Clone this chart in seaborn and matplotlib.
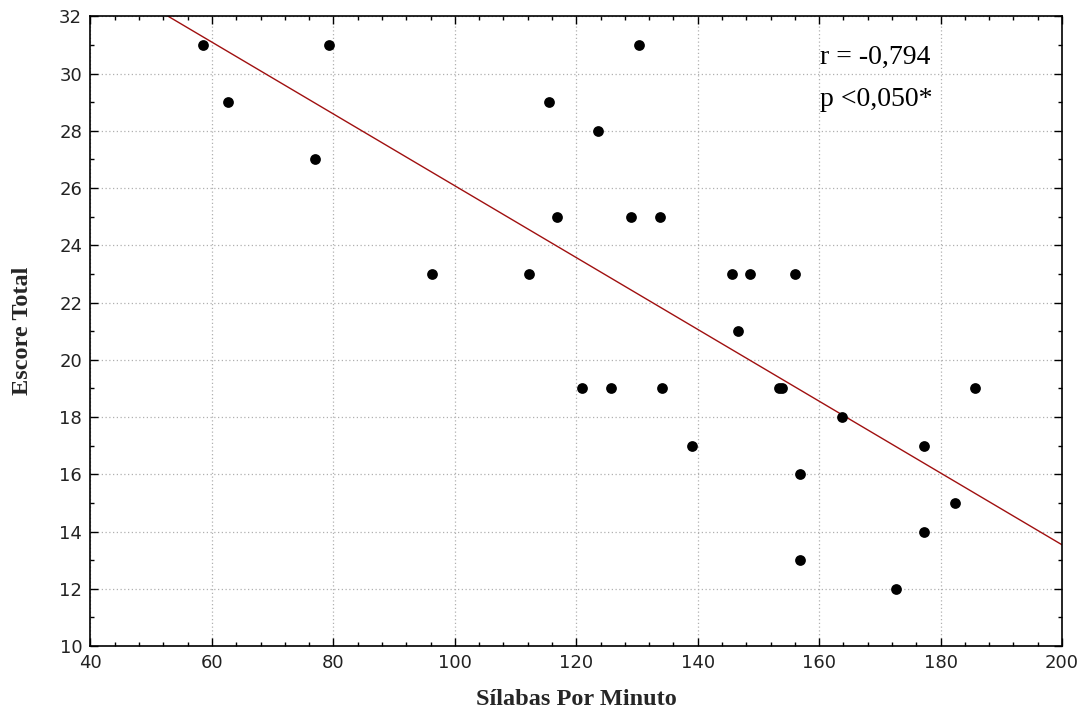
import matplotlib
matplotlib.use("Agg")
import matplotlib.pyplot as plt
import seaborn as sns
import numpy as np
import pandas as pd
from matplotlib.ticker import MultipleLocator

silabas = [58.5, 62.6, 77.0, 79.3, 96.2, 112.2, 115.5, 116.9, 121.0, 123.6,
           125.7, 129.0, 130.3, 133.8, 134.2, 139.1, 145.7, 146.6, 148.6, 153.4,
           153.9, 156.1, 156.8, 156.8, 163.7, 172.7, 177.2, 177.2, 182.3, 185.6]
escore = [31, 29, 27, 31, 23, 23, 29, 25, 19, 28,
          19, 25, 31, 25, 19, 17, 23, 21, 23, 19,
          19, 23, 16, 13, 18, 12, 17, 14, 15, 19]
x_label = "Sílabas Por Minuto"
y_label = "Escore Total"
annot_r = "r = -0,794"
annot_p = "p <0,050*"

df = pd.DataFrame({"x": silabas, "y": escore})

sns.set_style("white")
fig = plt.figure(figsize=(10.89, 7.27), dpi=100)
ax = fig.add_axes([0.0831, 0.1114, 0.9752 - 0.0831, 0.9776 - 0.1114])
ax.set_xlim(40, 200)
ax.set_ylim(10, 32)

sns.regplot(data=df, x="x", y="y", ax=ax, ci=None, truncate=False,
            scatter_kws=dict(s=60, color="black", alpha=1, linewidths=0, zorder=3),
            line_kws=dict(color="#a01010", lw=1.0, zorder=2))

ax.set_xlim(40, 200)
ax.set_ylim(10, 32)
ax.xaxis.set_major_locator(MultipleLocator(20))
ax.xaxis.set_minor_locator(MultipleLocator(4))
ax.yaxis.set_major_locator(MultipleLocator(2))
ax.yaxis.set_minor_locator(MultipleLocator(1))

ax.grid(True, which="major", linestyle=(0, (1, 2)), color="#b0b0b0", lw=0.9)
ax.set_axisbelow(True)
ax.tick_params(which="both", direction="in", top=True, right=True,
               bottom=True, left=True, color="black")
ax.tick_params(which="major", length=6, width=1, labelsize=13, pad=6,
               labelcolor="#222222")
ax.tick_params(which="minor", length=3, width=1)
for lab in ax.get_xticklabels() + ax.get_yticklabels():
    lab.set_fontfamily("DejaVu Sans")
for s in ax.spines.values():
    s.set_color("black")
    s.set_linewidth(1.2)

ax.set_xlabel(x_label, fontfamily="Liberation Serif", fontweight="bold",
              fontsize=17.5, labelpad=12)
ax.set_ylabel(y_label, fontfamily="Liberation Serif", fontweight="bold",
              fontsize=17.5, labelpad=19)

ax.text(160.2, 30.58, annot_r, fontfamily="Liberation Serif", fontsize=20,
        va="center", ha="left", color="black")
ax.text(160.2, 29.08, annot_p, fontfamily="Liberation Serif", fontsize=20,
        va="center", ha="left", color="black")

fig.savefig("out.png", dpi=100)
